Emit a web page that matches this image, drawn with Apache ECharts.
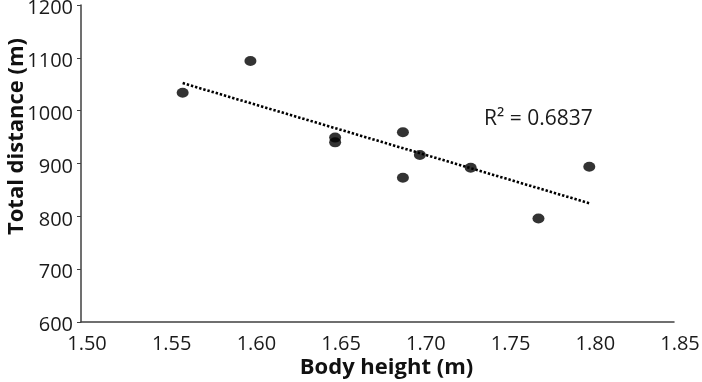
<!DOCTYPE html>
<html>
<head>
<meta charset="utf-8">
<script src="https://cdn.jsdelivr.net/npm/echarts@6/dist/echarts.min.js"></script>
<style>
  html, body { margin: 0; padding: 0; background: #fff; }
  #chart { width: 702px; height: 382px; }
</style>
</head>
<body>
<div id="chart"></div>
<script>
// values
var heights = [1.56, 1.60, 1.65, 1.65, 1.69, 1.69, 1.70, 1.73, 1.77, 1.80];
var distances = [1034, 1094, 949, 940, 959, 873, 916, 892, 796, 894];
var rSquaredLabel = "R\u00b2 = 0.6837";

// linear trendline (least squares) through the points
function fitLine(xs, ys) {
  var n = xs.length, mx = 0, my = 0;
  for (var i = 0; i < n; i++) { mx += xs[i]; my += ys[i]; }
  mx /= n; my /= n;
  var sxy = 0, sxx = 0;
  for (var j = 0; j < n; j++) {
    sxy += (xs[j] - mx) * (ys[j] - my);
    sxx += (xs[j] - mx) * (xs[j] - mx);
  }
  var slope = sxy / sxx;
  var x0 = Math.min.apply(null, xs), x1 = Math.max.apply(null, xs);
  return [[x0, my + slope * (x0 - mx)], [x1, my + slope * (x1 - mx)]];
}

var points = heights.map(function (h, i) { return [h, distances[i]]; });
var trend = fitLine(heights, distances);

var font = "'Open Sans', 'Liberation Sans', sans-serif";
var axisColor = "#404040";

var myChart = echarts.init(document.getElementById("chart"));
var option = {
  animation: false,
  textStyle: { fontFamily: font },
  grid: { left: 81, right: 28, top: 5, bottom: 60, containLabel: false, outerBoundsMode: "none" },
  xAxis: {
    type: "value",
    min: 1.5,
    max: 1.85,
    interval: 0.05,
    name: "Body height (m)",
    nameLocation: "middle",
    nameGap: 35,
    nameMoveOverlap: false,
    nameTextStyle: { fontFamily: font, fontSize: 22, fontWeight: "bold", color: "#111", padding: [0, 0, 0, 18] },
    axisLine: { show: true, lineStyle: { color: axisColor, width: 1.5 } },
    axisTick: { show: false },
    splitLine: { show: false },
    axisLabel: {
      fontFamily: font, fontSize: 20, color: "#1a1a1a", margin: 12,
      padding: [0, 0, 0, 12],
      formatter: function (v) { return v.toFixed(2); }
    }
  },
  yAxis: {
    type: "value",
    min: 600,
    max: 1200,
    interval: 100,
    name: "Total distance (m)",
    nameLocation: "middle",
    nameGap: 53,
    nameMoveOverlap: false,
    nameTextStyle: { fontFamily: font, fontSize: 22, fontWeight: "bold", color: "#111", padding: [0, 0, 0, 54] },
    axisLine: { show: true, lineStyle: { color: axisColor, width: 1.5 } },
    axisTick: { show: true, length: 4, lineStyle: { color: axisColor, width: 1 } },
    splitLine: { show: false },
    axisLabel: {
      fontFamily: font, fontSize: 20, color: "#1a1a1a", margin: 8,
      formatter: function (v) { return "{t|" + v + "}"; },
      rich: { t: { fontFamily: font, fontSize: 20, color: "#1a1a1a", padding: [7, 0, 0, 0] } }
    }
  },
  graphic: [
    {
      type: "text",
      left: 484,
      top: 109,
      style: { text: rSquaredLabel, font: "21px " + font, fill: "#1a1a1a" }
    }
  ],
  series: [
    {
      type: "line",
      data: trend,
      symbol: "none",
      lineStyle: { color: "#000", width: 2.6, type: [2.4, 1.9] },
      z: 1
    },
    {
      type: "scatter",
      data: points,
      symbol: "circle",
      symbolSize: [12, 10],
      itemStyle: { color: "#000" },
      z: 2
    }
  ]
};
myChart.setOption(option);
</script>
</body>
</html>
